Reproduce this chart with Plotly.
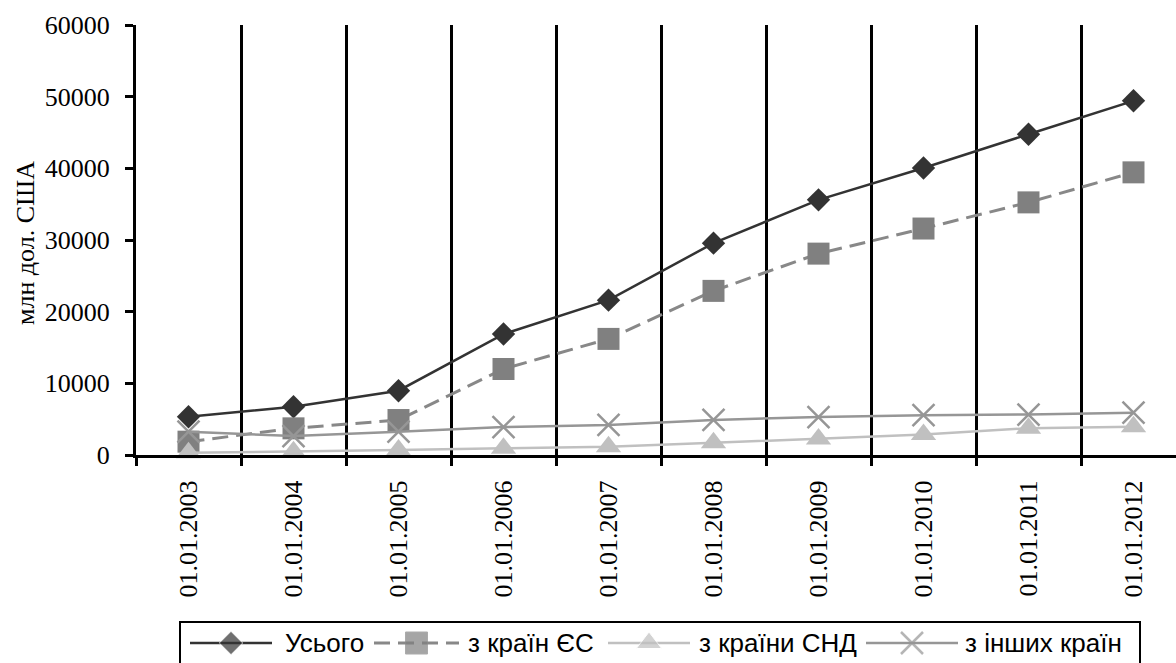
import plotly.graph_objects as go

W, H = 1176, 663

categories = ["01.01.2003", "01.01.2004", "01.01.2005", "01.01.2006", "01.01.2007",
              "01.01.2008", "01.01.2009", "01.01.2010", "01.01.2011", "01.01.2012"]

total = [5340, 6740, 8970, 16880, 21610, 29560, 35600, 40050, 44760, 49420]
eu = [1860, 3720, 4880, 12000, 16200, 22900, 28100, 31600, 35250, 39440]
cis = [300, 450, 700, 950, 1150, 1700, 2250, 2850, 3750, 3950]
other = [3250, 2650, 3250, 3900, 4200, 4900, 5300, 5550, 5650, 5900]

names = ["Усього", "з країн ЄС", "з країни СНД", "з інших країн"]
series = [total, eu, cis, other]

y_ticks = [0, 10000, 20000, 30000, 40000, 50000, 60000]
y_title = "млн дол. США"

styles = [
    dict(line=dict(color="#333333", width=2.5),
         marker=dict(symbol="diamond", size=18, color="#333333")),
    dict(line=dict(color="#888888", width=3, dash="16px,8px"),
         marker=dict(symbol="square", size=22, color="#808080")),
    dict(line=dict(color="#c0c0c0", width=2.5),
         marker=dict(symbol="triangle-up", size=22, color="#c0c0c0")),
    dict(line=dict(color="#969696", width=2.5),
         marker=dict(symbol="x-thin", size=22, color="#969696",
                     line=dict(color="#969696", width=2.5))),
]

fig = go.Figure()
for name, vals, st in zip(names, series, styles):
    fig.add_trace(go.Scatter(x=categories, y=vals, name=name, mode="lines+markers",
                             line=st["line"], marker=st["marker"],
                             showlegend=False, cliponaxis=False))

# custom legend (pixel layout on hidden helper axes)
leg_items = [  # (line start, line end, text start) in px
    (190, 272, 283),
    (374, 459, 466),
    (608, 690, 697),
    (866, 958, 963),
]
leg_y = 20  # px from bottom
for name, st, (x0, x1, tx) in zip(names, styles, leg_items):
    m = dict(st["marker"])
    m["size"] = [0, m["size"], 0]
    fig.add_trace(go.Scatter(x=[x0, (x0 + x1) / 2, x1], y=[leg_y] * 3, mode="lines+markers",
                             line=st["line"], marker=m, xaxis="x2", yaxis="y2",
                             showlegend=False, hoverinfo="skip", cliponaxis=False))
    fig.add_annotation(x=tx, y=leg_y, xref="x2", yref="y2", text=name, showarrow=False,
                       xanchor="left", yanchor="middle",
                       font=dict(family="Liberation Sans, Arial", size=26, color="black"))

fig.add_shape(type="rect", xref="paper", yref="paper",
              x0=180 / W, x1=1140 / W, y0=-0.1, y1=(H - 622) / H,
              line=dict(color="black", width=2), fillcolor="rgba(0,0,0,0)")

fig.add_annotation(x=25 / W, y=1 - 243 / H, xref="paper", yref="paper", text=y_title,
                   textangle=-90, showarrow=False, xanchor="center", yanchor="middle",
                   font=dict(family="Liberation Serif, Times New Roman", size=26, color="black"))

left, top, bottom = 136, 25, 455
fig.update_layout(
    width=W, height=H,
    margin=dict(l=0, r=0, t=0, b=0),
    paper_bgcolor="white", plot_bgcolor="rgba(0,0,0,0)",
    font=dict(family="Liberation Serif, Times New Roman", size=26, color="black"),
    xaxis=dict(domain=[left / W, 1], type="category", range=[-0.5, 9.5 - 10 / 105],
               tickson="boundaries", ticks="outside", ticklen=8, tickwidth=2.5, tickcolor="black",
               showgrid=True, gridcolor="black", gridwidth=2.5,
               showline=True, linecolor="black", linewidth=3,
               tickangle=-90, ticklabelstandoff=12, zeroline=False, automargin=False),
    yaxis=dict(domain=[(H - bottom) / H, (H - top) / H], range=[0, 60000],
               tickmode="array", tickvals=y_ticks, ticktext=[str(v) for v in y_ticks],
               ticks="outside", ticklen=8, tickwidth=2.5, tickcolor="black",
               showgrid=False, showline=True, linecolor="black", linewidth=3,
               zeroline=False, ticklabelstandoff=10, automargin=False),
    xaxis2=dict(domain=[0, 1], range=[0, W], visible=False, anchor="y2"),
    yaxis2=dict(domain=[0, 60 / H], range=[0, 60], visible=False, anchor="x2"),
)

fig.write_html("out.html")
